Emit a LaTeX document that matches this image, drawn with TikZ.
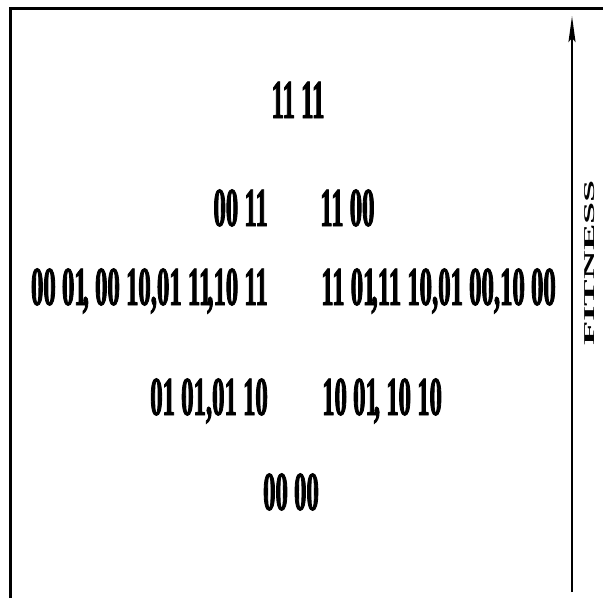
\documentclass[tikz,border=0pt]{standalone}
\usepackage{fontspec}
\setmainfont{Liberation Serif}
\newfontfamily\digitfont[FakeStretch=0.45,FakeBold=1.5]{Liberation Serif}
\usetikzlibrary{arrows.meta}
\tikzset{
  lbl/.style={inner sep=0pt, font=\digitfont\bfseries\fontsize{55}{55}\selectfont},
  frameline/.style={line width=3.2pt},
  axisline/.style={line width=2.2pt, -{Stealth[length=26pt,width=7pt,inset=4pt]}}
}
\begin{document}
\begin{tikzpicture}[x=1pt,y=-1pt]
\useasboundingbox (0,0) rectangle (603,598);
% frame
\coordinate (fa) at (10.5,598);
\coordinate (fb) at (10.5,8.7);
\coordinate (fc) at (603,8.7);
\draw[frameline] (fa) -- (fb) -- (fc);
% fitness axis
\coordinate (ax0) at (572,592);
\coordinate (ax1) at (572,16);
\draw[axisline] (ax0) -- (ax1);
\node[inner sep=0pt, rotate=90, anchor=base, font=\bfseries\fontsize{15}{15}\selectfont] (fit) at (594,263) {\scalebox{2.65}[1]{FITNESS}};
% levels
\node[lbl, anchor=base] (n1111) at (298,118) {11 11};
\node[lbl, anchor=base east] (n0011) at (268,226) {00 11};
\node[lbl, anchor=base west] (n1100) at (320,226) {11 00};
\node[lbl, anchor=base east] (r3l) at (268,305) {00 01\kern-4pt, 00 10,01 11\kern-4pt,10 11};
\node[lbl, anchor=base west] (r3r) at (321,305) {11 01\kern-4pt,11 10,01 00,10 00};
\node[lbl, anchor=base east] (r4l) at (268,415) {01 01,01 10};
\node[lbl, anchor=base west] (r4r) at (322,415) {10 01\kern-4pt, 10 10};
\node[lbl, anchor=base] (n0000) at (291,510) {00 00};
\end{tikzpicture}
\end{document}
